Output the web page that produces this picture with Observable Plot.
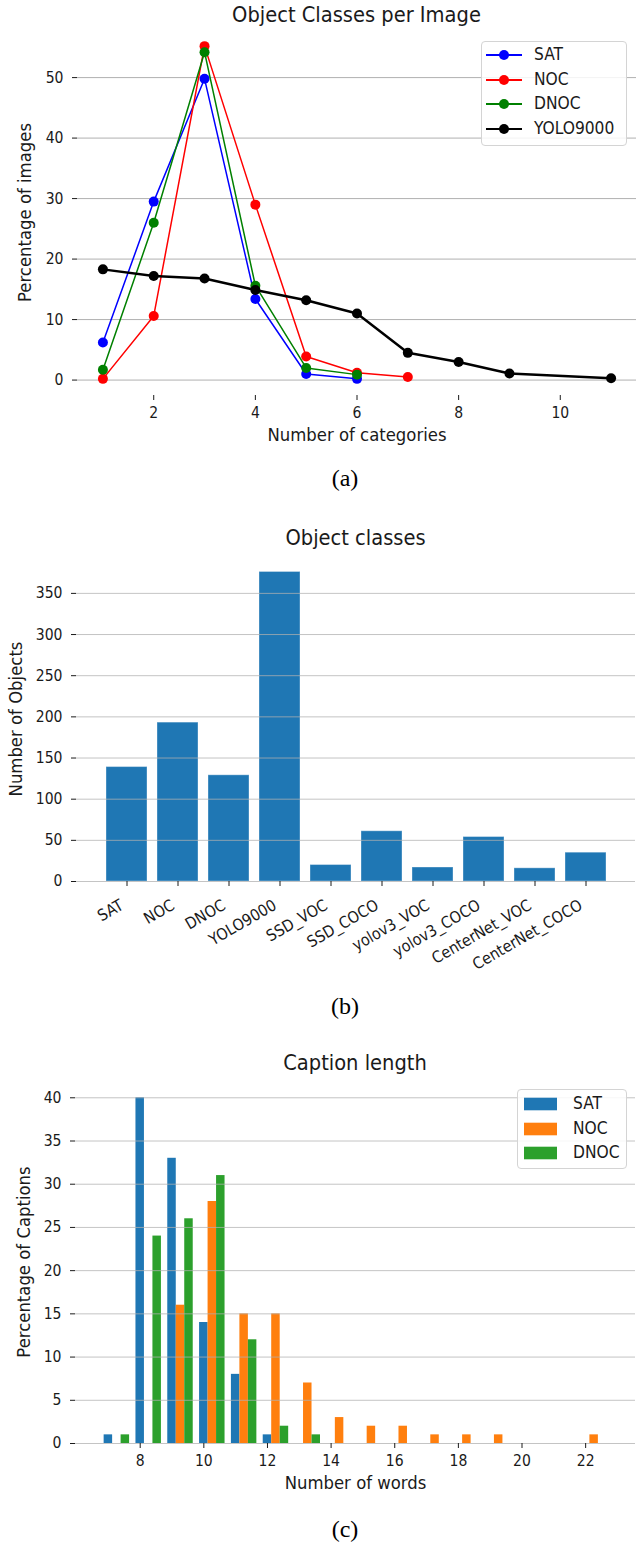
<!DOCTYPE html>
<html>
<head>
<meta charset="utf-8">
<script src="https://cdn.jsdelivr.net/npm/d3@7"></script>
<script src="https://cdn.jsdelivr.net/npm/@observablehq/plot@0.6"></script>
<style>
  html, body { margin:0; padding:0; background:#fff; }
  #page { position:relative; width:640px; height:1542px; overflow:hidden; background:#fff; color:#1a1a1a; }
  .txt { position:absolute; text-align:center; white-space:nowrap; transform:translateY(-50%); line-height:1; }
  .cap { font-family:"Liberation Serif","Times New Roman",serif; color:#000; }
  .legend { position:absolute; box-sizing:border-box; background:rgba(255,255,255,0.85); border:1px solid #d4d4d4; border-radius:4px; }
  .legend svg { position:absolute; overflow:visible; }
  .legend span { position:absolute; transform:translateY(-50%); line-height:1; white-space:nowrap; color:#1a1a1a; }
</style>
</head>
<body>
<div id="page"></div>
<script>
// ---------------- data ----------------
// (a) Object Classes per Image
const seriesNames = ["SAT", "NOC", "DNOC", "YOLO9000"];
const satCategories = [1, 2, 3, 4, 5, 6];
const satImagePct = [6.2, 29.5, 49.8, 13.4, 1.0, 0.2];
const nocCategories = [1, 2, 3, 4, 5, 6, 7];
const nocImagePct = [0.2, 10.6, 55.2, 29.0, 3.9, 1.2, 0.5];
const dnocCategories = [1, 2, 3, 4, 5, 6];
const dnocImagePct = [1.7, 26.0, 54.2, 15.6, 2.0, 0.9];
const yoloCategories = [1, 2, 3, 4, 5, 6, 7, 8, 9, 11];
const yoloImagePct = [18.3, 17.2, 16.8, 14.9, 13.2, 11.0, 4.5, 3.0, 1.1, 0.3];
const catTicks = [2, 4, 6, 8, 10];
const pctTicksA = [0, 10, 20, 30, 40, 50];

// (b) Object classes
const models = ["SAT", "NOC", "DNOC", "YOLO9000", "SSD_VOC", "SSD_COCO", "yolov3_VOC", "yolov3_COCO", "CenterNet_VOC", "CenterNet_COCO"];
const objectCounts = [139, 193, 129, 376, 20, 61, 17, 54, 16, 35];
const objTicks = [0, 50, 100, 150, 200, 250, 300, 350];

// (c) Caption length
const captionSeries = ["SAT", "NOC", "DNOC"];
const wordCounts = [7, 8, 9, 10, 11, 12, 13, 14, 15, 16, 17, 18, 19, 20, 21, 22];
const satCaptionPct  = [1, 40, 33, 14, 8, 1, 0, 0, 0, 0, 0, 0, 0, 0, 0, 0];
const nocCaptionPct  = [0, 0, 16, 28, 15, 15, 7, 3, 2, 2, 1, 1, 1, 0, 0, 1];
const dnocCaptionPct = [1, 24, 26, 31, 12, 2, 1, 0, 0, 0, 0, 0, 0, 0, 0, 0];
const wordTicks = [8, 10, 12, 14, 16, 18, 20, 22];
const pctTicksC = [0, 5, 10, 15, 20, 25, 30, 35, 40];

// ---------------- styles ----------------
const lineColors = ["#0000ff", "#ff0000", "#008000", "#000000"];
const lineWidths = [1.5, 1.5, 1.5, 2.5];
const barColor = "#1f77b4";
const histColors = ["#1f77b4", "#ff7f0e", "#2ca02c"];
const gridColor = "#b0b0b0";

// font: prefer a condensed DejaVu if installed, keeping text widths equal
const cv = document.createElement("canvas").getContext("2d");
function measure(fam) { cv.font = "100px " + fam; return cv.measureText("Number of categories 0123456789").width; }
const wReg = measure('"DejaVu Sans"');
const wCond = measure('"DejaVu Sans Condensed","DejaVu Sans"');
const useCond = wCond < wReg * 0.97;
const sansFamily = useCond ? '"DejaVu Sans Condensed","DejaVu Sans",sans-serif' : '"DejaVu Sans",sans-serif';
const k = useCond ? wReg / wCond : 1;
const fs = { title: 19.5 * k, label: 16.5 * k, tick: 14 * k, legend: 15.5 * k, rot: 14.4 * k };

const page = document.getElementById("page");
function addText(str, cy, cx, size, cls) {
  const d = document.createElement("div");
  d.className = "txt" + (cls ? " " + cls : "");
  d.textContent = str;
  d.style.top = cy + "px";
  d.style.left = (cx - 200) + "px";
  d.style.width = "400px";
  d.style.fontSize = size + "px";
  if (!cls) d.style.fontFamily = sansFamily;
  page.appendChild(d);
}
function addSvg(svg, top) {
  svg.style.position = "absolute";
  svg.style.left = "0px";
  svg.style.top = top + "px";
  page.appendChild(svg);
}
function addLegend(left, top, w, h, items) {
  const box = document.createElement("div");
  box.className = "legend";
  Object.assign(box.style, { left: left + "px", top: top + "px", width: w + "px", height: h + "px" });
  items.forEach(it => {
    const ns = "http://www.w3.org/2000/svg";
    const s = document.createElementNS(ns, "svg");
    s.setAttribute("width", 40); s.setAttribute("height", 14);
    s.style.left = it.sx + "px"; s.style.top = (it.cy - 7) + "px";
    if (it.kind === "line") {
      const l = document.createElementNS(ns, "line");
      l.setAttribute("x1", 0); l.setAttribute("x2", 36); l.setAttribute("y1", 7); l.setAttribute("y2", 7);
      l.setAttribute("stroke", it.color); l.setAttribute("stroke-width", it.lw);
      const c = document.createElementNS(ns, "circle");
      c.setAttribute("cx", 18); c.setAttribute("cy", 7); c.setAttribute("r", 5); c.setAttribute("fill", it.color);
      s.appendChild(l); s.appendChild(c);
    } else {
      const r = document.createElementNS(ns, "rect");
      r.setAttribute("x", 0); r.setAttribute("y", 0.7); r.setAttribute("width", 33); r.setAttribute("height", 12.6);
      r.setAttribute("fill", it.color);
      s.appendChild(r);
    }
    box.appendChild(s);
    const t = document.createElement("span");
    t.textContent = it.label;
    t.style.left = it.tx + "px"; t.style.top = it.cy + "px";
    t.style.fontFamily = sansFamily; t.style.fontSize = fs.legend + "px";
    box.appendChild(t);
  });
  page.appendChild(box);
}
const plotStyle = { fontFamily: sansFamily, fontSize: fs.tick + "px", color: "#1a1a1a", background: "transparent", overflow: "visible" };

// ---------------- (a) ----------------
const catSeries = [satCategories, nocCategories, dnocCategories, yoloCategories];
const pctSeries = [satImagePct, nocImagePct, dnocImagePct, yoloImagePct];
const rowsA = seriesNames.flatMap((s, i) => catSeries[i].map((c, j) => ({ series: s, cats: c, pct: pctSeries[i][j] })));
const [cMin, cMax] = d3.extent(rowsA, d => d.cats);
const [pMin, pMax] = d3.extent(rowsA, d => d.pct);
const xDomA = [cMin - 0.05 * (cMax - cMin), cMax + 0.05 * (cMax - cMin)];
const yDomA = [pMin - 0.05 * (pMax - pMin), pMax + 0.05 * (pMax - pMin)];
const marksA = [Plot.ruleY(pctTicksA, { stroke: gridColor, strokeWidth: 1 })];
seriesNames.forEach((s, i) => {
  const rows = rowsA.filter(d => d.series === s);
  marksA.push(Plot.line(rows, { x: "cats", y: "pct", stroke: lineColors[i], strokeWidth: lineWidths[i] }));
  marksA.push(Plot.dot(rows, { x: "cats", y: "pct", fill: lineColors[i], r: 5 }));
});
marksA.push(Plot.axisX({ ticks: catTicks, tickSize: 5, tickPadding: 6, label: null }));
marksA.push(Plot.axisY({ ticks: pctTicksA, tickSize: 5, tickPadding: 9, label: null }));
marksA.push(Plot.text(["Number of categories"], { text: d => d, frameAnchor: "bottom", dy: 40, lineAnchor: "middle", textAnchor: "middle", fontSize: fs.label }));
marksA.push(Plot.text(["Percentage of images"], { text: d => d, frameAnchor: "left", rotate: -90, dx: -52, lineAnchor: "middle", textAnchor: "middle", fontSize: fs.label }));
const plotA = Plot.plot({
  width: 640, height: 421, marginTop: 0, marginBottom: 55, marginLeft: 77, marginRight: 4,
  style: plotStyle,
  x: { domain: xDomA },
  y: { domain: yDomA },
  marks: marksA
});
addText("Object Classes per Image", 15, 356.5, fs.title);
addSvg(plotA, 29);
addLegend(481, 41, 146, 105, seriesNames.map((s, i) => ({
  kind: "line", color: lineColors[i], lw: 2.2, label: s, sx: 4, tx: 52, cy: 13 + i * 24.7
})));
addText("(a)", 478, 345, 24, "cap");

// ---------------- (b) ----------------
const rowsB = models.map((m, i) => ({ model: m, count: objectCounts[i] }));
const maxB = d3.max(objectCounts);
const plotB = Plot.plot({
  width: 640, height: 429, marginTop: 0, marginBottom: 104, marginLeft: 76, marginRight: 5,
  style: plotStyle,
  x: { type: "band", domain: models, paddingInner: 0.2, paddingOuter: 0.49 },
  y: { domain: [0, maxB * 1.05] },
  marks: [
    Plot.barY(rowsB, { x: "model", y: "count", fill: barColor, stroke: "#ffffff", strokeOpacity: 0.35, strokeWidth: 1 }),
    Plot.ruleY(objTicks, { stroke: gridColor, strokeOpacity: 0.75 }),
    Plot.axisX({ tickSize: 5, tickFormat: () => "", label: null }),
    Plot.text(models, { x: d => d, text: d => d, frameAnchor: "bottom", rotate: -30, textAnchor: "end", lineAnchor: "top", dx: -8, dy: 17, fontSize: fs.rot }),
    Plot.axisY({ ticks: objTicks, tickSize: 5, tickPadding: 9, label: null }),
    Plot.text(["Number of Objects"], { text: d => d, frameAnchor: "left", rotate: -90, dx: -60, lineAnchor: "middle", textAnchor: "middle", fontSize: fs.label })
  ]
});
addText("Object classes", 538, 355.5, fs.title);
addSvg(plotB, 556);
addText("(b)", 1006, 345, 24, "cap");

// ---------------- (c) ----------------
const capPct = [satCaptionPct, nocCaptionPct, dnocCaptionPct];
const barW = 0.8 / captionSeries.length;
const rowsC = captionSeries.flatMap((s, i) => wordCounts.map((w, j) => ({ series: s, idx: i, words: w, pct: capPct[i][j] })))
  .filter(d => d.pct > 0);
const binLo = d3.min(wordCounts) - barW / 2 - 0.1;
const binHi = d3.max(wordCounts) - barW / 2 + 0.9;
const xDomC = [binLo - 0.05 * (binHi - binLo), binHi + 0.05 * (binHi - binLo)];
const maxC = d3.max(rowsC, d => d.pct);
const plotC = Plot.plot({
  width: 640, height: 418, marginTop: 0, marginBottom: 55, marginLeft: 75, marginRight: 5,
  style: plotStyle,
  x: { domain: xDomC },
  y: { domain: [0, maxC * 1.05] },
  marks: [
    ...captionSeries.map((s, i) => Plot.rectY(rowsC.filter(d => d.series === s), {
      x1: d => d.words - barW / 2 + d.idx * barW,
      x2: d => d.words + barW / 2 + d.idx * barW,
      y: "pct", fill: histColors[i]
    })),
    Plot.ruleY(pctTicksC, { stroke: gridColor, strokeOpacity: 0.75 }),
    Plot.axisX({ ticks: wordTicks, tickSize: 5, tickPadding: 6, label: null }),
    Plot.axisY({ ticks: pctTicksC, tickSize: 5, tickPadding: 9, label: null }),
    Plot.text(["Number of words"], { text: d => d, frameAnchor: "bottom", dy: 40, lineAnchor: "middle", textAnchor: "middle", fontSize: fs.label }),
    Plot.text(["Percentage of Captions"], { text: d => d, frameAnchor: "left", rotate: -90, dx: -51.5, lineAnchor: "middle", textAnchor: "middle", fontSize: fs.label })
  ]
});
addText("Caption length", 1063, 355, fs.title);
addSvg(plotC, 1080);
addLegend(517, 1089, 110, 80, captionSeries.map((s, i) => ({
  kind: "rect", color: histColors[i], label: s, sx: 6, tx: 55, cy: 14 + i * 24.7
})));
addText("(c)", 1529, 345, 24, "cap");
</script>
</body>
</html>
